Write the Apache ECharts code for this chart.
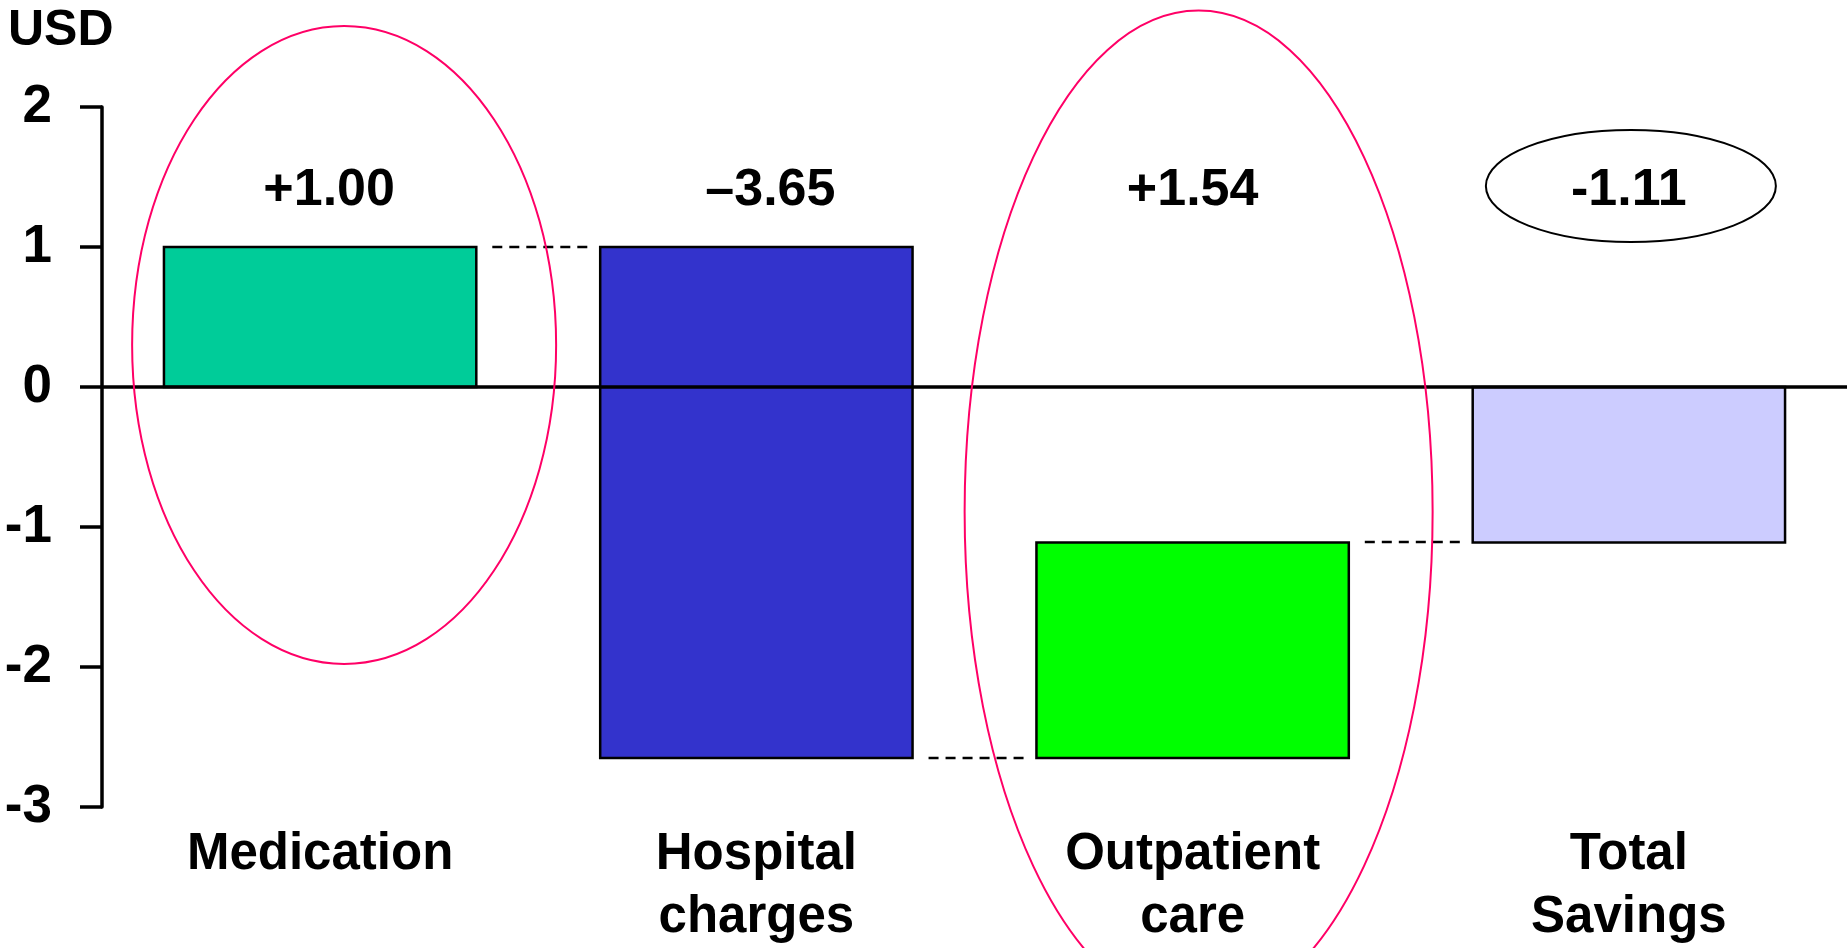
<!DOCTYPE html>
<html>
<head>
<meta charset="utf-8">
<script src="https://cdn.jsdelivr.net/npm/echarts@6/dist/echarts.min.js"></script>
<style>
  html, body { margin: 0; padding: 0; background: #ffffff; }
  #chart { width: 1847px; height: 948px; }
</style>
</head>
<body>
<div id="chart"></div>
<script>
// ---- data ----
const categories = ['Medication', 'Hospital\ncharges', 'Outpatient\ncare', 'Total\nSavings'];
const changes = [1.00, -3.65, 1.54];                 // step changes, USD
const changeLabels = ['+1.00', '\u20133.65', '+1.54'];
const totalLabel = '-1.11';
const barColors = ['#00CC99', '#3333CC', '#00FF00', '#CCCCFF'];
const yTicks = [-3, -2, -1, 0, 1, 2];

// ---- layout / style ----
const FONT = '"Liberation Sans", Arial, Helvetica, sans-serif';
const BAR_RATIO = 0.716;      // bar width as share of the category band
const LABEL_LEVEL = 1.40;     // value-axis height of the change labels
const labelShift = [9, 14, 0, 0];   // horizontal nudge of the change labels, px
const ringSpecs = [
  { cat: 0, dx: 24, value: 0.30,  rx: 212, ry: 319, color: '#FF0066' },
  { cat: 2, dx: 6,  value: -0.89, rx: 234, ry: 501, color: '#FF0066' },
  { cat: 3, dx: 2,  value: 1.436, rx: 145, ry: 56,  color: '#000000' }
];

// waterfall steps: [index, low, high, level after step]
const steps = [];
let running = 0;
changes.forEach(function (c, i) {
  const next = running + c;
  steps.push([i, Math.min(running, next), Math.max(running, next), next]);
  running = next;
});
const total = Math.round(running * 100) / 100;
steps.push([changes.length, Math.min(0, total), Math.max(0, total), total]);
const valueLabels = changeLabels.concat([totalLabel]);

function renderStep(params, api) {
  const i = api.value(0);
  const top = api.coord([i, api.value(2)]);
  const bottom = api.coord([i, api.value(1)]);
  const band = api.size([1, 0])[0];
  const w = band * BAR_RATIO;
  const children = [{
    type: 'rect',
    shape: { x: top[0] - w / 2, y: top[1], width: w, height: bottom[1] - top[1] },
    style: { fill: barColors[i], stroke: '#000000', lineWidth: 2.5 }
  }];
  if (i < categories.length - 1) {
    const y = Math.round(api.coord([i, api.value(3)])[1]);
    children.push({
      type: 'line',
      shape: { x1: top[0] + w / 2 + 16, y1: y, x2: top[0] + band - w / 2 - 8, y2: y },
      style: { stroke: '#000000', lineWidth: 2.5, lineDash: [10, 7] }
    });
  }
  const lp = api.coord([i, LABEL_LEVEL]);
  children.push({
    type: 'text',
    x: lp[0] + labelShift[i], y: lp[1],
    style: {
      text: valueLabels[i], fill: '#000000',
      fontSize: 52, fontWeight: 'bold', fontFamily: FONT,
      align: 'center', verticalAlign: 'middle'
    }
  });
  return { type: 'group', children: children };
}

const chart = echarts.init(document.getElementById('chart'));
chart.setOption({
  animation: false,
  backgroundColor: '#ffffff',
  title: {
    text: 'USD', left: 3, top: 1,
    textStyle: { fontSize: 50, fontWeight: 'bold', fontFamily: FONT, color: '#000000' }
  },
  grid: { left: 102, right: 0, top: 107, bottom: 141, outerBoundsMode: 'none' },
  xAxis: [{
    type: 'category', data: categories, position: 'bottom',
    axisLine: { show: false, onZero: false },
    axisTick: { show: false },
    axisLabel: {
      margin: 16, color: '#000000', fontSize: 51, fontWeight: 'bold',
      fontFamily: FONT, lineHeight: 63, interval: 0
    },
    splitLine: { show: false }
  }, {
    type: 'category', data: categories, position: 'top', z: 10,
    axisLine: { show: true, onZero: true, lineStyle: { color: '#000000', width: 3.5 } },
    axisTick: { show: false },
    axisLabel: { show: false },
    splitLine: { show: false }
  }],
  yAxis: {
    type: 'value', min: yTicks[0], max: yTicks[yTicks.length - 1], interval: 1,
    axisLine: { show: true, lineStyle: { color: '#000000', width: 3.5 } },
    axisTick: { show: true, length: 22, lineStyle: { color: '#000000', width: 3.5 } },
    axisLabel: {
      margin: 50, color: '#000000', fontSize: 53, fontWeight: 'bold', fontFamily: FONT
    },
    splitLine: { show: false }
  },
  series: [{
    type: 'custom',
    xAxisIndex: 0,
    renderItem: renderStep,
    encode: { x: 0, y: [1, 2] },
    data: steps,
    z: 2
  }]
});

// annotation rings placed through the grid's own coordinate conversion
const rings = ringSpecs.map(function (r) {
  const p = chart.convertToPixel({ xAxisIndex: 0, yAxisIndex: 0 }, [r.cat, r.value]);
  return {
    type: 'ellipse',
    shape: { cx: p[0] + r.dx, cy: p[1], rx: r.rx, ry: r.ry },
    style: { fill: 'none', stroke: r.color, lineWidth: 2 },
    z: 20, silent: true
  };
});
chart.setOption({ graphic: { elements: rings } });
</script>
</body>
</html>
